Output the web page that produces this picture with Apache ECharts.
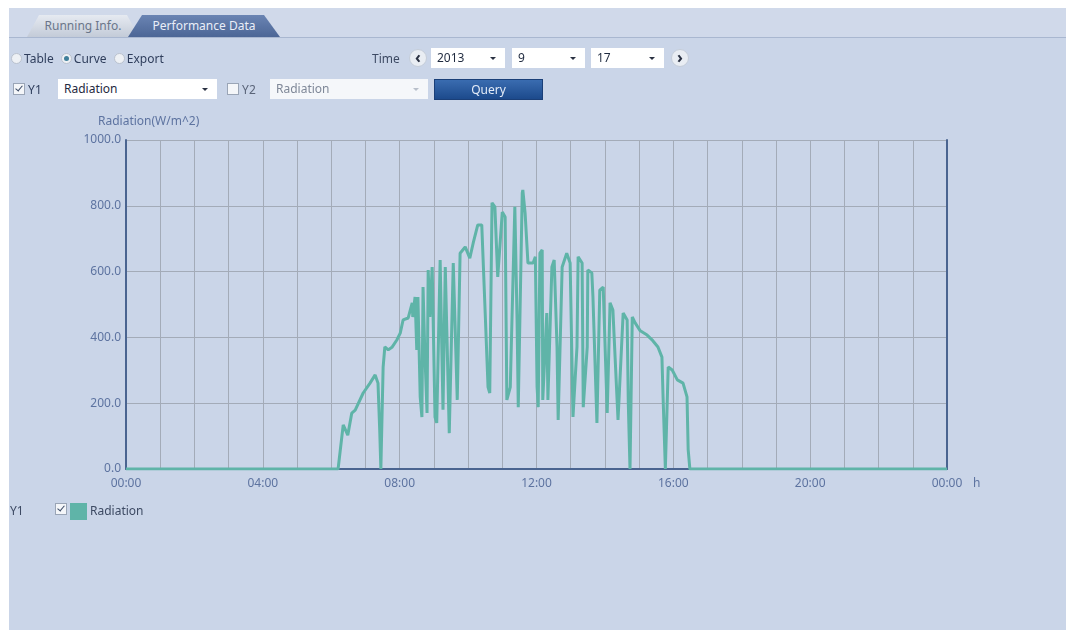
<!DOCTYPE html>
<html>
<head>
<meta charset="utf-8">
<title>Performance Data</title>
<script src="https://cdn.jsdelivr.net/npm/echarts@6/dist/echarts.min.js"></script>
<style>
  html, body { margin: 0; padding: 0; background: #ffffff; }
  body { width: 1066px; height: 630px; position: relative; overflow: hidden;
         font-family: "Noto Sans", "Open Sans", sans-serif; font-size: 12px; color: #2f3e5c; }
  .panel { position: absolute; left: 9px; top: 8px; width: 1057px; height: 622px; background: #cad5e8; }
  .tabbar { position: absolute; left: 9px; top: 8px; width: 1057px; height: 29px; background: #d0d9ea;
            border-bottom: 1px solid #a9b7d0; }
  .tab { position: absolute; top: 15px; height: 22px; line-height: 22px; text-align: center; }
  .tab.off { left: 27px; width: 112px; color: #6b768a;
             background: linear-gradient(#e6eaf1, #c3cbd8);
             clip-path: polygon(12px 0, 100px 0, 112px 100%, 0 100%); }
  .tab.on { left: 128px; width: 152px; color: #e9eef8;
            background: linear-gradient(#6a84b3, #4c6696);
            clip-path: polygon(14px 0, 136px 0, 152px 100%, 0 100%); }
  .ctl { position: absolute; z-index: 2; white-space: nowrap; }
  .radio { display: inline-block; width: 9px; height: 9px; border-radius: 50%; border: 1px solid #b9c1cd;
           background: #eef1f5; vertical-align: -1px; margin-right: 2px; position: relative; }
  .radio.sel::after { content: ""; position: absolute; left: 2px; top: 2px; width: 5px; height: 5px;
                      border-radius: 50%; background: #3f7f9a; }
  .chk { display: inline-block; width: 10px; height: 10px; border: 1px solid #9aa5b6; background: #f4f6f9;
         vertical-align: -1px; position: relative; }
  .chk.on::after { content: ""; position: absolute; left: 3px; top: 0px; width: 3px; height: 6px;
                   border: solid #3a4a66; border-width: 0 1.5px 1.5px 0; transform: rotate(40deg); }
  .sel-box { position: absolute; height: 20px; line-height: 20px; background: #ffffff; padding-left: 6px;
             box-sizing: border-box; color: #1f2a3f; z-index: 2; }
  .sel-box.dis { background: #f5f7fa; color: #7f8898; }
  .sel-box::after { content: ""; position: absolute; right: 9px; top: 9px; border-left: 3px solid transparent;
                    border-right: 3px solid transparent; border-top: 3px solid #2a3142; }
  .sel-box.dis::after { border-top-color: #b8bfca; }
  .nav { position: absolute; width: 18px; height: 18px; border-radius: 50%; background: #e9edf3;
         border: 1px solid #c4ccd8; box-sizing: border-box; text-align: center; line-height: 14px;
         font-weight: bold; font-size: 16px; color: #2a3142; z-index: 2; }
  .btn { position: absolute; left: 434px; top: 79px; width: 109px; height: 21px; line-height: 20px;
         text-align: center; color: #e4ecf8; background: linear-gradient(#3a6cb0, #1c4a8c);
         border: 1px solid #1a3f78; box-sizing: border-box; z-index: 2; font-size: 12px; }
  #chart { position: absolute; left: 0; top: 0; width: 1066px; height: 630px; z-index: 1; }
</style>
</head>
<body>
<div class="panel"></div>
<div class="tabbar"></div>
<div class="tab off" style="z-index:2">Running Info.</div>
<div class="tab on" style="z-index:2">Performance Data</div>

<div class="ctl" style="left:11px; top:50px;">
  <span class="radio"></span>Table
  <span class="radio sel" style="margin-left:4px"></span>Curve
  <span class="radio" style="margin-left:4px"></span>Export
</div>
<div class="ctl" style="left:372px; top:50px; color:#3d4a63;">Time</div>
<div class="nav" style="left:409px; top:49px;">&lsaquo;</div>
<div class="sel-box" style="left:431px; top:48px; width:74px;">2013</div>
<div class="sel-box" style="left:512px; top:48px; width:73px;">9</div>
<div class="sel-box" style="left:591px; top:48px; width:73px;">17</div>
<div class="nav" style="left:671px; top:49px;">&rsaquo;</div>

<div class="ctl" style="left:13px; top:81px;"><span class="chk on"></span> Y1</div>
<div class="sel-box" style="left:58px; top:79px; width:159px;">Radiation</div>
<div class="ctl" style="left:227px; top:81px; color:#5a6478;"><span class="chk"></span> Y2</div>
<div class="sel-box dis" style="left:270px; top:79px; width:158px;">Radiation</div>
<div class="btn">Query</div>

<div class="ctl" style="left:10px; top:502px; color:#3d4a63;">Y1</div>
<div class="ctl" style="left:55px; top:501px;"><span class="chk on"></span></div>

<div id="chart"></div>

<script>
// time of day (HH:MM) and radiation readings in W/m^2, 17 Sep 2013
var times = [
  '00:00', '06:12', '06:21', '06:29', '06:36', '06:42', '06:56', '07:08', '07:17', '07:22',
  '07:25', '07:27', '07:31', '07:34', '07:40', '07:47', '07:55', '08:01', '08:06', '08:15',
  '08:22', '08:23', '08:27', '08:30', '08:32', '08:36', '08:39', '08:41', '08:44', '08:48',
  '08:50', '08:53', '08:57', '09:02', '09:05', '09:11', '09:16', '09:20', '09:27', '09:34',
  '09:41', '09:46', '09:55', '10:03', '10:09', '10:17', '10:24', '10:30', '10:35', '10:38',
  '10:42', '10:47', '10:52', '11:00', '11:05', '11:08', '11:14', '11:22', '11:26', '11:28',
  '11:35', '11:36', '11:40', '11:45', '11:54', '11:58', '12:01', '12:03', '12:06', '12:10',
  '12:11', '12:18', '12:20', '12:27', '12:31', '12:36', '12:38', '12:45', '12:53', '12:59',
  '13:04', '13:11', '13:13', '13:20', '13:22', '13:29', '13:30', '13:37', '13:39', '13:46',
  '13:51', '13:57', '14:04', '14:09', '14:14', '14:23', '14:32', '14:39', '14:41', '14:44',
  '14:48', '14:53', '15:02', '15:14', '15:24', '15:33', '15:40', '15:42', '15:46', '15:51',
  '15:58', '16:07', '16:17', '16:24', '16:26', '16:29', '24:00'
]
var radiation = [
  0, 0, 134, 103, 170, 179, 231, 261, 286, 261,
  119, 0, 310, 371, 362, 371, 392, 413, 453, 459,
  505, 462, 523, 362, 523, 219, 158, 553, 362, 170,
  605, 462, 614, 158, 140, 635, 180, 614, 109, 626,
  210, 656, 675, 641, 687, 742, 742, 474, 249, 231,
  809, 797, 584, 781, 766, 210, 249, 797, 444, 188,
  839, 848, 778, 626, 626, 645, 250, 188, 656, 666,
  210, 474, 210, 614, 635, 371, 149, 614, 656, 626,
  158, 371, 645, 626, 188, 371, 605, 596, 523, 140,
  544, 553, 170, 505, 483, 149, 474, 453, 200, 0,
  462, 444, 420, 407, 390, 371, 340, 219, 0, 310,
  301, 271, 261, 219, 60, 0, 0
]
var yTicks = [0, 200, 400, 600, 800, 1000]

function toMinutes (t) {
  var p = t.split(':')
  return Number(p[0]) * 60 + Number(p[1])
}

var seriesData = times.map(function (t, i) {
  return [toMinutes(t), radiation[i]]
})

var labelColor = '#5d73a0'
var gridColor = '#a3abb8'
var axisColor = '#4a6490'

var chart = echarts.init(document.getElementById('chart'), null, { renderer: 'canvas' })
chart.setOption({
  animation: false,
  backgroundColor: 'transparent',
  textStyle: { fontFamily: 'Noto Sans' },
  grid: { left: 126, right: 119, top: 140, bottom: 161 },
  graphic: [{
    type: 'text',
    left: 98,
    top: 116,
    style: { text: 'Radiation(W/m^2)', fill: labelColor, font: '12px "Noto Sans"' }
  }],
  legend: {
    left: 65,
    top: 498,
    icon: 'rect',
    itemWidth: 17,
    itemHeight: 17,
    itemGap: 4,
    textStyle: { color: '#3d4a63', fontSize: 12, padding: [0, 0, 0, -2] },
    data: ['Radiation']
  },
  xAxis: {
    type: 'value',
    min: 0,
    max: 1440,
    interval: 240,
    name: 'h',
    nameLocation: 'end',
    nameGap: 26,
    nameTextStyle: { color: labelColor, fontSize: 12, verticalAlign: 'top', padding: [9, 0, 0, 0] },
    axisLine: { show: true, lineStyle: { color: axisColor, width: 2 } },
    axisTick: { show: false },
    axisLabel: {
      color: labelColor,
      fontSize: 12,
      margin: 9,
      formatter: function (v) {
        var h = Math.floor(v / 60) % 24
        return (h < 10 ? '0' : '') + h + ':00'
      }
    },
    splitLine: { show: true, lineStyle: { color: gridColor, width: 1 } },
    minorTick: { show: false, splitNumber: 4 },
    minorSplitLine: { show: true, lineStyle: { color: gridColor, width: 1 } }
  },
  yAxis: [{
    type: 'value',
    min: 0,
    max: 1000,
    interval: 200,
    axisLine: { show: true, lineStyle: { color: axisColor, width: 2 } },
    axisTick: { show: false },
    axisLabel: {
      color: labelColor,
      fontSize: 12,
      margin: 5,
      formatter: function (v) {
        return yTicks.indexOf(v) >= 0 ? v.toFixed(1) : ''
      }
    },
    splitLine: { show: true, lineStyle: { color: gridColor, width: 1 } }
  }, {
    type: 'value',
    position: 'right',
    min: 0,
    max: 1000,
    interval: 200,
    axisLine: { show: true, lineStyle: { color: axisColor, width: 2 } },
    axisTick: { show: false },
    axisLabel: { show: false },
    splitLine: { show: false }
  }],
  series: [{
    name: 'Radiation',
    type: 'line',
    yAxisIndex: 0,
    showSymbol: false,
    smooth: false,
    itemStyle: { color: '#5fb4a8' },
    lineStyle: { color: '#5fb4a8', width: 3 },
    data: seriesData
  }]
})
</script>
</body>
</html>
